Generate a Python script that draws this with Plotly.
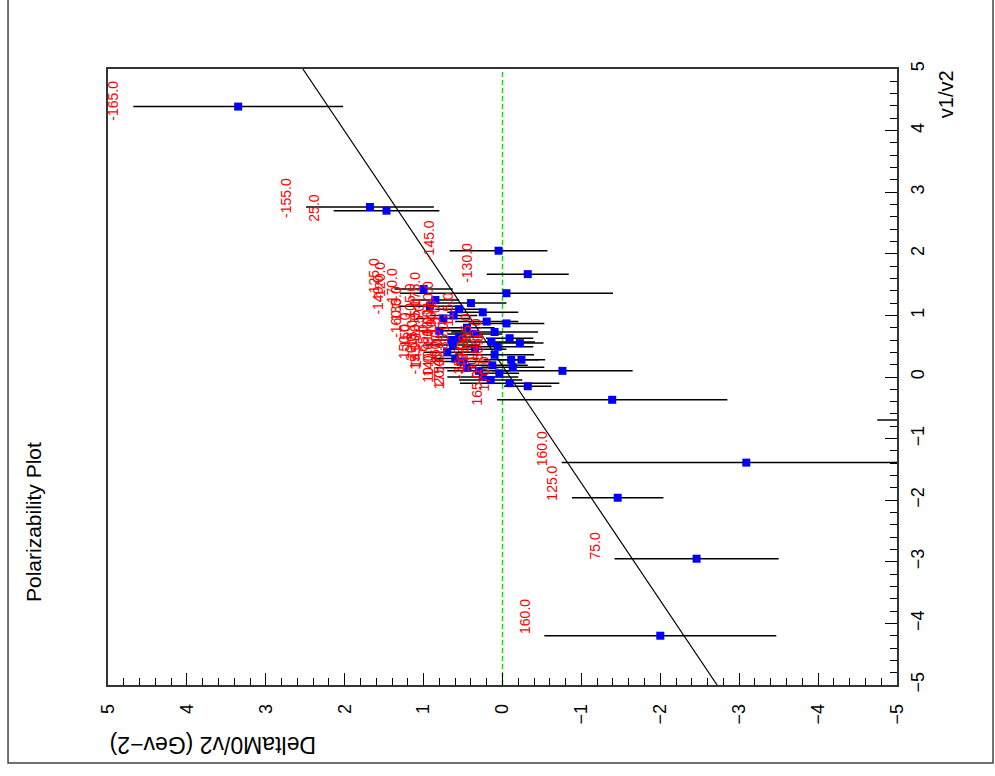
import plotly.graph_objects as go

# Measured points: DeltaM0/v2 (Gev-2), v1/v2, error on DeltaM0/v2, angle label
delta_m0 = [3.35, 1.68, 1.47, 0.05, -0.32, -3.09, -1.46, -2.46, -2.00,
            1.00, -0.05, 0.92, -0.05, 0.25, 0.62, 0.10, -0.09, 0.14, 0.06,
            -0.22, 0.63, 0.45, 0.55, 0.35, 0.10, -0.11, -0.24, 0.13, -0.13,
            0.04, -0.76, -1.39, -0.09, -0.32, 0.75, 0.80, 0.70, 0.50, 0.30,
            0.85, 0.40, 0.60, 0.45, 0.35, 0.20, 0.55, 0.25, 0.65, 0.15,
            -5.60]
v1_over_v2 = [4.39, 2.76, 2.70, 2.05, 1.67, -1.39, -1.96, -2.95, -4.20,
              1.43, 1.36, 1.15, 0.87, 1.05, 1.00, 0.73, 0.63, 0.57, 0.49,
              0.55, 0.52, 0.80, 0.65, 0.45, 0.36, 0.28, 0.28, 0.19, 0.16,
              0.06, 0.10, -0.37, -0.10, -0.15, 0.95, 0.75, 0.40, 0.25, 0.10,
              1.25, 1.20, 0.30, 0.15, 0.70, 0.90, 1.10, 0.00, 0.60, -0.05,
              -0.70]
delta_err = [1.33, 0.81, 0.67, 0.62, 0.52, 2.34, 0.58, 1.04, 1.47,
             0.37, 1.35, 0.40, 0.48, 0.45, 0.30, 0.55, 0.30, 0.55, 0.45,
             0.30, 0.35, 0.35, 0.30, 0.40, 0.50, 0.35, 0.30, 0.45, 0.40,
             0.25, 0.89, 1.46, 0.63, 0.30, 0.35, 0.30, 0.30, 0.35, 0.40,
             0.30, 0.45, 0.30, 0.40, 0.35, 0.40, 0.30, 0.45, 0.25, 0.40,
             0.85]
angle_labels = ["-165.0", "-155.0", "25.0", "-145.0", "-130.0", "160.0", "125.0",
                "75.0", "160.0",
                "-125.0", "-120.0", "-140.0", "-115.0", "-110.0", "-105.0",
                "-100.0", "-95.0", "-90.0", "-85.0", "-80.0", "-150.0", "-75.0",
                "-70.0", "-65.0", "-60.0", "-55.0", "-50.0", "-45.0", "-40.0",
                "-35.0", "-30.0", "165.0", "175.0", "170.0", "-135.0", "-160.0",
                "150.0", "145.0", "140.0", "-170.0", "-175.0", "-20.0", "-15.0",
                "-10.0", "-5.0", "5.0", "10.0", "15.0", "20.0", ""]

# Straight-line fit: DeltaM0/v2 = intercept + slope * v1/v2
fit_intercept = -0.095
fit_slope = 0.525

v_range = [-5, 5]
d_range = [5, -5]
axis_ticks = [5, 4, 3, 2, 1, 0, -1, -2, -3, -4, -5]

FONT = "Liberation Sans, Arial, sans-serif"

fig = go.Figure()

# zero line of DeltaM0/v2
fig.add_trace(go.Scatter(
    x=[0, 0], y=v_range, mode="lines",
    line=dict(color="#18dd18", width=1.5, dash="5px,3px"),
    hoverinfo="skip", showlegend=False))

# fitted line
fig.add_trace(go.Scatter(
    x=[fit_intercept + fit_slope * v for v in v_range], y=v_range, mode="lines",
    line=dict(color="black", width=1.2),
    hoverinfo="skip", showlegend=False))

# points with horizontal error bars
fig.add_trace(go.Scatter(
    x=delta_m0, y=v1_over_v2, mode="markers",
    marker=dict(symbol="square", size=8, color="#0000ff"),
    error_x=dict(type="data", array=delta_err, color="black",
                 thickness=1.5, width=0),
    showlegend=False))

# angle labels, set just left of each error bar
for d, v, e, lab in zip(delta_m0, v1_over_v2, delta_err, angle_labels):
    if not lab:
        continue
    fig.add_annotation(
        x=d + e, y=v, xref="x", yref="y", text=lab, showarrow=False,
        textangle=-90, xanchor="right", yanchor="bottom",
        xshift=-10, yshift=-(8 + 1.8 * v),
        font=dict(family=FONT, size=14, color="#ff0000"))

# titles
fig.add_annotation(
    x=-0.095, y=0.2646, xref="paper", yref="paper", text="Polarizability Plot",
    showarrow=False, textangle=-90, xanchor="center", yanchor="middle",
    font=dict(family=FONT, size=21, color="black"))
fig.add_annotation(
    x=0, y=-0.0974, xref="paper", yref="paper", text="DeltaM0/v2 (Gev\u22122)",
    showarrow=False, textangle=180, xanchor="left", yanchor="middle",
    font=dict(family=FONT, size=23, color="black"))
fig.add_annotation(
    x=1.062, y=0.959, xref="paper", yref="paper", text="v1/v2",
    showarrow=False, textangle=-90, xanchor="center", yanchor="middle",
    font=dict(family=FONT, size=20, color="black"))

# outer page frame
fig.add_shape(type="rect", xref="paper", yref="paper",
              x0=-0.1267, x1=1.1217, y0=-0.1266, y1=1.15,
              line=dict(color="#444444", width=1.5))

axis_common = dict(
    tickmode="array", tickvals=axis_ticks,
    ticktext=[str(t).replace("-", "\u2212") for t in axis_ticks],
    tickangle=-90, ticks="inside", ticklen=12, tickwidth=1.2, tickcolor="black",
    showline=True, linecolor="#333333", linewidth=1.5, mirror=True,
    showgrid=False, zeroline=False,
    tickfont=dict(family=FONT, size=18, color="black"),
    minor=dict(dtick=0.2, ticks="inside", ticklen=7, tickwidth=1.2,
               tickcolor="black", showgrid=False),
)

fig.update_xaxes(range=d_range, ticklabelstandoff=10, **axis_common)
fig.update_yaxes(range=v_range, side="right", ticklabelstandoff=4, **axis_common)

fig.update_layout(
    width=995, height=776,
    margin=dict(l=108, r=98, t=69, b=91),
    paper_bgcolor="white", plot_bgcolor="white",
    showlegend=False,
)

fig.write_html("out.html")
